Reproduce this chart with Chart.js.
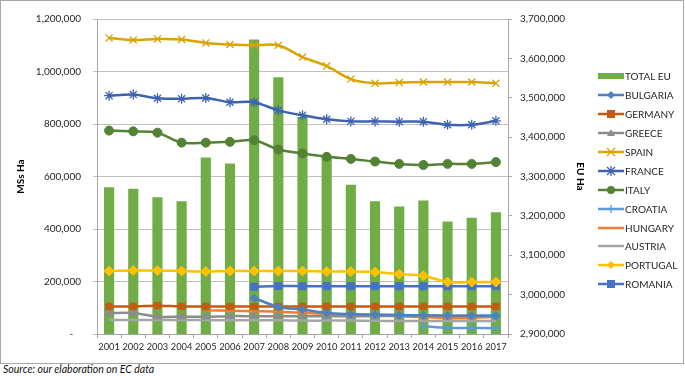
<!DOCTYPE html>
<html>
<head>
<meta charset="utf-8">
<script src="https://cdn.jsdelivr.net/npm/chart.js@4.4.1/dist/chart.umd.min.js"></script>
<style>
  body { margin: 0; background: #fff; font-family: Lato, sans-serif; }
  #frame { position: absolute; left: 0; top: 0; width: 684px; height: 364px; box-sizing: border-box; border: 1px solid #a6a6a6; }
  #wrap { position: absolute; left: 0; top: 0; width: 682px; height: 362px; }
  #legend { position: absolute; left: 598px; top: 67px; }
  .item { height: 18.9px; display: flex; align-items: center; font-size: 10px; color: #262626; white-space: nowrap; }
  .item svg { margin-right: 1px; }
  #source { position: absolute; left: 3px; top: 363px; font-style: italic; font-size: 10.5px; color: #111; }
</style>
</head>
<body>
<div id="frame"><div id="wrap"><canvas id="chart"></canvas></div></div>
<div id="legend"></div>
<div id="source">Source: our elaboration on EC data</div>
<script>
// values
const years = ["2001","2002","2003","2004","2005","2006","2007","2008","2009","2010","2011","2012","2013","2014","2015","2016","2017"];

const totalEU = [3273000, 3269000, 3247000, 3237000, 3348000, 3333000, 3648000, 3552000, 3451000, 3350000, 3279000, 3237000, 3224000, 3239000, 3186000, 3195000, 3209000];
const bulgaria = [null, null, null, null, null, null, 137000, 103000, 93000, 80000, 76000, 74000, 72000, 71000, 70000, 70000, 70000];
const germany = [105000, 105000, 108000, 105000, 105000, 105000, 105000, 105000, 105000, 105000, 105000, 105000, 105000, 105000, 105000, 105000, 105000];
const greece = [80000, 80000, 66000, 66000, 66000, 68000, 68000, 68000, 68000, 68000, 68000, 68000, 69000, 70000, 70000, 70000, 70000];
const spain = [1128000, 1120000, 1124000, 1122000, 1109000, 1103000, 1100000, 1100000, 1055000, 1021000, 971000, 955000, 958000, 960000, 960000, 960000, 955000];
const france = [908000, 912000, 898000, 896000, 899000, 883000, 883000, 852000, 833000, 818000, 810000, 810000, 809000, 809000, 797000, 797000, 812000];
const italy = [775000, 772000, 767000, 729000, 729000, 732000, 738000, 703000, 688000, 675000, 667000, 657000, 648000, 644000, 648000, 648000, 655000];
const croatia = [null, null, null, null, null, null, null, null, null, null, null, null, null, 30000, 23000, 23000, 22000];
const hungary = [null, null, null, null, 90000, 89000, 87000, 85000, 81000, 76000, 72000, 70000, 68000, 65000, 60000, 62000, 65000];
const austria = [53000, 53000, 53000, 53000, 53000, 52000, 52000, 52000, 51000, 51000, 51000, 50000, 50000, 50000, 50000, 50000, 50000];
const portugal = [240000, 242000, 242000, 240000, 238000, 240000, 240000, 240000, 240000, 238000, 238000, 236000, 228000, 222000, 198000, 198000, 198000];
const romania = [null, null, null, null, null, null, 180000, 183000, 182000, 182000, 182000, 182000, 182000, 182000, 182000, 182000, 182000];

const axisGrey = "#a6a6a6";
const tickFont = { family: "Lato", size: 10 };

function lineSet(label, data, color, marker, size) {
  return {
    type: "line",
    label,
    data,
    yAxisID: "y",
    borderColor: color,
    backgroundColor: color,
    borderWidth: 2.5,
    tension: 0.3,
    pointStyle: marker || false,
    pointRadius: marker ? size : 0,
    pointBorderWidth: marker === "crossRot" || marker === "star" || marker === "cross" ? 1.3 : 1,
    order: 0
  };
}

const chart = new Chart(document.getElementById("chart"), {
  data: {
    labels: years,
    datasets: [
      {
        type: "bar",
        label: "TOTAL EU",
        data: totalEU,
        yAxisID: "y2",
        backgroundColor: "#70ad47",
        categoryPercentage: 1,
        barPercentage: 0.42,
        order: 1
      },
      lineSet("BULGARIA", bulgaria, "#4e7fc0", "rectRot", 4),
      lineSet("GERMANY", germany, "#c55a11", "rect", 4.5),
      lineSet("GREECE", greece, "#8c8c8c", "triangle", 4.5),
      lineSet("SPAIN", spain, "#d9a300", "crossRot", 5),
      lineSet("FRANCE", france, "#3d63b0", "star", 5),
      lineSet("ITALY", italy, "#548235", "circle", 4.5),
      lineSet("CROATIA", croatia, "#5b9bd5", "cross", 4.5),
      lineSet("HUNGARY", hungary, "#ed7d31", null, 0),
      lineSet("AUSTRIA", austria, "#a5a5a5", null, 0),
      lineSet("PORTUGAL", portugal, "#ffc000", "rectRot", 5),
      lineSet("ROMANIA", romania, "#4472c4", "rect", 5)
    ]
  },
  options: {
    responsive: true,
    maintainAspectRatio: false,
    animation: false,
    layout: { padding: { left: 10, top: 10, right: 93, bottom: 0 } },
    plugins: {
      legend: { display: false },
      tooltip: { enabled: false }
    },
    scales: {
      x: {
        grid: { offset: true, drawOnChartArea: false, color: axisGrey, tickLength: 4 },
        border: { color: axisGrey },
        ticks: { color: "#262626", font: { family: "Lato", size: 9.3 }, autoSkip: false, maxRotation: 0, padding: 3 },
        afterFit: (s) => { s.height = 29; }
      },
      y: {
        position: "left",
        min: 0,
        max: 1200000,
        grid: { color: "#bfbfbf", tickLength: 4 },
        border: { color: axisGrey },
        ticks: {
          stepSize: 200000,
          color: "#262626",
          font: tickFont,
          padding: 12,
          callback: (v) => (v === 0 ? "-   " : v.toLocaleString("en-US"))
        },
        title: { display: true, text: "MSs Ha", color: "#000", font: { family: "Lato", size: 10, weight: "bold" }, padding: { top: 4, bottom: 4 } },
        afterFit: (s) => { s.width = 86; }
      },
      y2: {
        position: "right",
        min: 2900000,
        max: 3700000,
        grid: { drawOnChartArea: false, color: axisGrey, tickLength: 4 },
        border: { color: axisGrey },
        ticks: {
          stepSize: 100000,
          color: "#262626",
          font: tickFont,
          padding: 8,
          callback: (v) => v.toLocaleString("en-US")
        },
        title: { display: true, text: "EU Ha", color: "#000", font: { family: "Lato", size: 10, weight: "bold" }, padding: { top: 4, bottom: 4 } },
        afterFit: (s) => { s.width = 82; }
      }
    }
  }
});

// html legend: line + marker sample, built from the datasets
function markerSvg(style, color) {
  const c = 13, m = 5;
  switch (style) {
    case "rect": return `<rect x="${c - 4}" y="${m - 4}" width="8" height="8" fill="${color}"/>`;
    case "rectRot": return `<polygon points="${c},${m - 4} ${c + 4},${m} ${c},${m + 4} ${c - 4},${m}" fill="${color}"/>`;
    case "triangle": return `<polygon points="${c},${m - 4} ${c + 4},${m + 3} ${c - 4},${m + 3}" fill="${color}"/>`;
    case "circle": return `<circle cx="${c}" cy="${m}" r="4" fill="${color}"/>`;
    case "crossRot": return `<path d="M${c - 4} ${m - 4}L${c + 4} ${m + 4}M${c + 4} ${m - 4}L${c - 4} ${m + 4}" stroke="${color}" stroke-width="1.3"/>`;
    case "star": return `<path d="M${c - 4} ${m - 4}L${c + 4} ${m + 4}M${c + 4} ${m - 4}L${c - 4} ${m + 4}M${c} ${m - 5}L${c} ${m + 5}" stroke="${color}" stroke-width="1.3"/>`;
    case "cross": return `<path d="M${c} ${m - 4}L${c} ${m + 4}" stroke="${color}" stroke-width="1.3"/>`;
    default: return "";
  }
}

const legendEl = document.getElementById("legend");
chart.data.datasets.forEach((ds) => {
  let sample;
  if (ds.type === "bar") {
    sample = `<svg width="26" height="10"><rect x="0" y="2" width="26" height="6" fill="${ds.backgroundColor}"/></svg>`;
  } else {
    sample = `<svg width="26" height="10"><line x1="0" y1="5" x2="26" y2="5" stroke="${ds.borderColor}" stroke-width="2.5"/>${markerSvg(ds.pointStyle, ds.borderColor)}</svg>`;
  }
  const row = document.createElement("div");
  row.className = "item";
  row.innerHTML = sample + `<span>${ds.label}</span>`;
  legendEl.appendChild(row);
});
</script>
</body>
</html>
